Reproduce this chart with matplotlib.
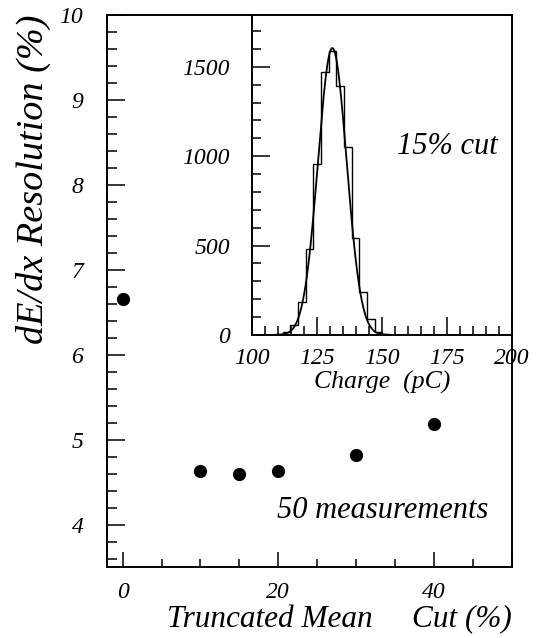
import numpy as np
import matplotlib
matplotlib.use("Agg")
import matplotlib.pyplot as plt
from matplotlib.ticker import MultipleLocator

# Main plot: resolution vs truncated-mean cut
CUT_PCT = [0, 10, 15, 20, 30, 40]
RESOLUTION_PCT = [6.66, 4.63, 4.59, 4.63, 4.82, 5.18]

# Inset: charge histogram for 15% cut (bin edges in pC, counts per bin)
HIST_EDGES = [105.9, 108.85, 111.8, 114.75, 117.7, 120.65, 123.6, 126.55, 129.5,
              132.45, 135.4, 138.35, 141.3, 144.25, 147.2, 150.15, 153.1]
HIST_COUNTS = [0, 5, 18, 55, 184, 480, 955, 1469, 1590,
               1391, 1050, 542, 240, 90, 17, 5]

# Gaussian fit drawn over the histogram
FIT_MEAN = 130.9
FIT_SIGMA = 5.5
FIT_PEAK = 1605

plt.rcParams['font.family'] = ['Liberation Serif', 'DejaVu Serif']
plt.rcParams['font.style'] = 'italic'

fig = plt.figure(figsize=(5.38, 6.38), dpi=100)

# --- main axes ---
ax = fig.add_axes([107 / 538, 1 - 567 / 638, 405 / 538, 552 / 638])
ax.plot(CUT_PCT, RESOLUTION_PCT, 'o', color='black', ms=8.5, zorder=5)
ax.set_xlim(-2, 50)
ax.set_ylim(3.5, 10)
ax.xaxis.set_major_locator(MultipleLocator(20))
ax.xaxis.set_minor_locator(MultipleLocator(5))
ax.yaxis.set_major_locator(MultipleLocator(1))
ax.yaxis.set_minor_locator(MultipleLocator(0.2))
ax.tick_params(axis='both', which='both', direction='in', top=False, right=False,
               labelsize=17, width=1.1)
ax.tick_params(axis='y', which='major', length=13, pad=17)
ax.tick_params(axis='y', which='minor', length=7)
ax.tick_params(axis='x', which='major', length=11, pad=11)
ax.tick_params(axis='x', which='minor', length=6)
for sp in ax.spines.values():
    sp.set_linewidth(1.4)

ax.set_ylabel('dE/dx Resolution (%)', fontsize=27.5, loc='top', labelpad=6)
ax.set_xlabel('Truncated Mean     Cut (%)', fontsize=22.5, loc='right', labelpad=1)
ax.text(488 / 538, 1 - 511 / 638, '50 measurements', transform=fig.transFigure,
        fontsize=22, ha='right', va='center')

# --- inset histogram ---
ins = fig.add_axes([252 / 538, 1 - 335 / 638, 260 / 538, 320 / 638])
ins.stairs(HIST_COUNTS, HIST_EDGES, color='black', linewidth=1.0)
xs = np.linspace(100, 200, 600)
ins.plot(xs, FIT_PEAK * np.exp(-0.5 * ((xs - FIT_MEAN) / FIT_SIGMA) ** 2),
         color='black', linewidth=1.3)
ins.set_xlim(100, 200)
ins.set_ylim(0, 1790)
ins.xaxis.set_major_locator(MultipleLocator(25))
ins.xaxis.set_minor_locator(MultipleLocator(5))
ins.yaxis.set_major_locator(MultipleLocator(500))
ins.yaxis.set_minor_locator(MultipleLocator(100))
ins.tick_params(axis='both', which='both', direction='in', top=False, right=False,
                labelsize=17, width=1.1)
ins.tick_params(axis='both', which='major', length=13)
ins.tick_params(axis='both', which='minor', length=6.5)
ins.tick_params(axis='y', which='major', pad=16)
ins.tick_params(axis='x', which='major', pad=9)
for sp in ins.spines.values():
    sp.set_linewidth(1.4)
ins.set_xlabel('Charge  (pC)', fontsize=18.5, labelpad=2)
ins.text(447 / 538, 1 - 147 / 638, '15% cut', transform=fig.transFigure,
         fontsize=22, ha='center', va='center')

fig.savefig('out.png', dpi=100)
